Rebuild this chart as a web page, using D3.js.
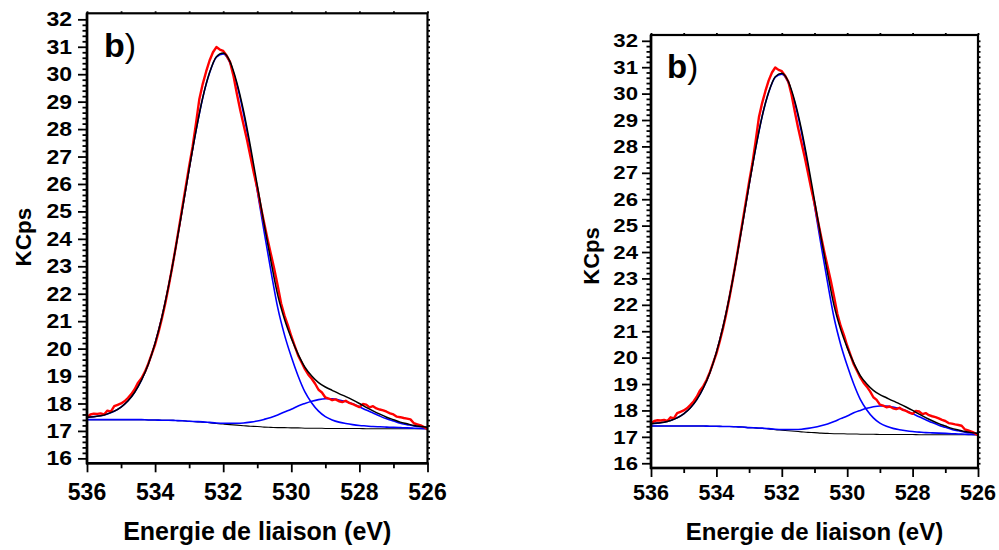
<!DOCTYPE html>
<html><head><meta charset="utf-8">
<script src="https://cdn.jsdelivr.net/npm/d3@7"></script>
<style>body{margin:0;background:#fff}svg{display:block}text{font-family:"Liberation Sans",Arial,sans-serif}</style>
</head><body>
<svg id="chart" width="999" height="550"></svg>
<script>
// ---------- DATA ----------
const energyFit = [536.0,535.8,535.6,535.4,535.2,535.0,534.8,534.6,534.4,534.2,534.0,533.8,533.6,533.4,533.2,533.0,532.8,532.6,532.4,532.2,532.0,531.8,531.6,531.4,531.2,531.0,530.8,530.6,530.4,530.2,530.0,529.8,529.6,529.4,529.2,529.0,528.8,528.6,528.4,528.2,528.0,527.8,527.6,527.4,527.2,527.0,526.8,526.6,526.4,526.2,526.0];
const background = [17.41,17.41,17.41,17.41,17.41,17.41,17.41,17.41,17.41,17.40,17.40,17.39,17.39,17.38,17.37,17.35,17.34,17.32,17.30,17.27,17.25,17.23,17.21,17.19,17.17,17.16,17.14,17.13,17.12,17.12,17.11,17.11,17.10,17.10,17.10,17.09,17.09,17.09,17.09,17.09,17.09,17.08,17.08,17.08,17.08,17.08,17.08,17.08,17.08,17.08,17.08];
const peakMain = [17.50,17.52,17.55,17.62,17.72,17.87,18.09,18.41,18.85,19.43,20.20,21.15,22.31,23.64,25.08,26.54,27.93,29.14,30.05,30.62,30.74,30.41,29.63,28.55,27.22,25.76,24.27,22.84,21.50,20.50,19.70,19.00,18.42,18.02,17.72,17.52,17.40,17.32,17.27,17.23,17.20,17.18,17.16,17.15,17.14,17.13,17.12,17.11,17.10,17.09,17.08];
const peakSecond = [17.41,17.41,17.41,17.41,17.41,17.41,17.41,17.41,17.41,17.40,17.40,17.39,17.39,17.38,17.37,17.35,17.34,17.33,17.31,17.29,17.28,17.28,17.28,17.29,17.32,17.36,17.42,17.49,17.58,17.69,17.79,17.91,18.00,18.08,18.14,18.17,18.17,18.13,18.07,17.99,17.88,17.76,17.65,17.54,17.44,17.36,17.28,17.23,17.18,17.15,17.13];
const envelope = [17.50,17.52,17.55,17.62,17.72,17.87,18.09,18.41,18.85,19.43,20.20,21.15,22.31,23.64,25.08,26.54,27.93,29.15,30.06,30.64,30.77,30.46,29.70,28.65,27.37,25.96,24.55,23.20,21.96,21.07,20.38,19.80,19.32,19.00,18.76,18.60,18.48,18.36,18.25,18.13,18.00,17.86,17.73,17.61,17.50,17.41,17.32,17.26,17.20,17.16,17.13];
const energyMeas = [536.0,535.9,535.8,535.7,535.6,535.5,535.4,535.3,535.2,535.1,535.0,534.9,534.8,534.7,534.6,534.5,534.4,534.3,534.2,534.1,534.0,533.9,533.8,533.7,533.6,533.5,533.4,533.3,533.2,533.1,533.0,532.9,532.8,532.7,532.6,532.5,532.4,532.3,532.2,532.1,532.0,531.9,531.8,531.7,531.6,531.5,531.4,531.3,531.2,531.1,531.0,530.9,530.8,530.7,530.6,530.5,530.4,530.3,530.2,530.1,530.0,529.9,529.8,529.7,529.6,529.5,529.4,529.3,529.2,529.1,529.0,528.9,528.8,528.7,528.6,528.5,528.4,528.3,528.2,528.1,528.0,527.9,527.8,527.7,527.6,527.5,527.4,527.3,527.2,527.1,527.0,526.9,526.8,526.7,526.6,526.5,526.4,526.3,526.2,526.1,526.0];
const measured = [17.50,17.60,17.63,17.62,17.64,17.60,17.74,17.70,17.90,17.95,18.00,18.08,18.20,18.34,18.52,18.76,18.92,19.15,19.45,19.80,20.15,20.60,21.10,21.65,22.28,22.95,23.66,24.40,25.15,25.90,26.65,27.35,28.20,29.10,29.65,30.10,30.50,30.80,30.99,30.90,30.85,30.68,30.45,29.95,29.30,28.70,28.15,27.60,27.00,26.40,25.85,25.20,24.60,24.00,23.45,22.90,22.30,21.65,21.20,20.85,20.45,20.10,19.75,19.50,19.25,19.05,18.90,18.72,18.50,18.40,18.22,18.18,18.12,18.15,18.08,18.05,18.10,18.02,17.98,17.92,17.87,17.98,17.96,17.86,17.90,17.82,17.78,17.75,17.70,17.64,17.60,17.52,17.50,17.47,17.45,17.42,17.28,17.24,17.20,17.14,17.06];
const xTickLabels = [536,534,532,530,528,526];
const xMinorTicks = [535,533,531,529,527];
const yTickLabels = [16,17,18,19,20,21,22,23,24,25,26,27,28,29,30,31,32];
const panelLabel = "b";
const xTitle = "Energie de liaison (eV)";
const yTitle = "KCps";

// ---------- LAYOUT ----------
const panels = [
  {id:"L", x0:87, x1:427.5, y0:13.3, y1:463.3, yl:19.5, ylScale:1.18, ylRight:72, xl:23, xt:25, ytx:22.5, yty:237, yt:22.5, bx:104, by:57, bfs:34},
  {id:"R", x0:651, x1:978, y0:35, y1:468, yl:18.5, ylScale:1.2, ylRight:638, xl:21.5, xt:24, ytx:591, yty:256, yt:22, bx:667, by:78, bfs:33}
];

const svg = d3.select("#chart");

panels.forEach(p => {
  const x = d3.scaleLinear().domain([536,526]).range([p.x0,p.x1]);
  const y = d3.scaleLinear().domain([15.82,32.22]).range([p.y1,p.y0]);
  const g = svg.append("g");

  g.append("clipPath").attr("id","clip"+p.id).append("rect")
    .attr("x",p.x0).attr("y",p.y0).attr("width",p.x1-p.x0).attr("height",p.y1-p.y0);
  const plot = g.append("g").attr("clip-path",`url(#clip${p.id})`);

  const lineFit = arr => d3.line().x((d,i)=>x(energyFit[i])).y(d=>y(d)).curve(d3.curveMonotoneX)(arr);
  const lineMeas = d3.line().x((d,i)=>x(energyMeas[i])).y(d=>y(d));

  plot.append("path").attr("d",lineFit(background)).attr("fill","none").attr("stroke","#000").attr("stroke-width",1.1);
  plot.append("path").attr("d",lineFit(peakSecond)).attr("fill","none").attr("stroke","#0000ff").attr("stroke-width",1.6);
  plot.append("path").attr("d",lineFit(peakMain)).attr("fill","none").attr("stroke","#0000ff").attr("stroke-width",1.6);
  plot.append("path").attr("d",lineMeas(measured)).attr("fill","none").attr("stroke","#ff0000").attr("stroke-width",2.4).attr("stroke-linejoin","round");
  plot.append("path").attr("d",lineFit(envelope)).attr("fill","none").attr("stroke","#000").attr("stroke-width",1.5);

  // axes ticks
  const styleAxis = sel => { sel.select(".domain").remove(); sel.selectAll("line").attr("stroke","#000").attr("stroke-width",2); sel.selectAll("text").remove(); };
  g.append("g").attr("transform",`translate(0,${p.y1})`).call(d3.axisBottom(x).tickValues(xTickLabels).tickSize(9)).call(styleAxis);
  g.append("g").attr("transform",`translate(0,${p.y1})`).call(d3.axisBottom(x).tickValues(xMinorTicks).tickSize(5)).call(styleAxis);
  g.append("g").attr("transform",`translate(0,${p.y0})`).call(d3.axisTop(x).tickValues(xTickLabels.concat(xMinorTicks)).tickSize(2)).call(styleAxis);
  const yMinor = d3.range(16,32.01,0.2).filter(v=>Math.abs(v-Math.round(v))>0.01);
  g.append("g").attr("transform",`translate(${p.x0},0)`).call(d3.axisLeft(y).tickValues(yTickLabels).tickSize(9)).call(styleAxis);
  g.append("g").attr("transform",`translate(${p.x0},0)`).call(d3.axisLeft(y).tickValues(yMinor).tickSize(4.5)).call(styleAxis);
  g.append("g").attr("transform",`translate(${p.x1},0)`).call(d3.axisRight(y).tickValues(yTickLabels.concat(yMinor)).tickSize(2.5)).call(styleAxis);
  g.selectAll("g.tick line").attr("stroke-width",1.8);

  // frame
  g.append("rect").attr("x",p.x0).attr("y",p.y0).attr("width",p.x1-p.x0).attr("height",p.y1-p.y0)
    .attr("fill","none").attr("stroke","#000").attr("stroke-width",2.2);
  g.append("line").attr("x1",p.x0).attr("x2",p.x0).attr("y1",p.y0).attr("y2",p.y1+1).attr("stroke","#000").attr("stroke-width",2.6);
  g.append("line").attr("x1",p.x0-1).attr("x2",p.x1+1).attr("y1",p.y1).attr("y2",p.y1).attr("stroke","#000").attr("stroke-width",2.6);

  // tick labels
  g.selectAll(".xl").data(xTickLabels).join("text")
    .attr("x",d=>x(d)).attr("y",500).attr("text-anchor","middle")
    .attr("font-size",p.xl).attr("font-weight","bold").text(d=>d);
  g.selectAll(".yl").data(yTickLabels).join("text")
    .attr("transform",d=>`translate(${p.ylRight},${y(d)+p.yl*0.36}) scale(${p.ylScale},1)`)
    .attr("text-anchor","end").attr("font-size",p.yl).attr("font-weight","bold").text(d=>d);

  // titles
  g.append("text").attr("x",(p.x0+p.x1)/2).attr("y",540).attr("text-anchor","middle")
    .attr("font-size",p.xt).attr("font-weight","bold").text(xTitle);
  g.append("text").attr("transform",`translate(${p.ytx+p.yt*0.36},${p.yty}) rotate(-90)`).attr("text-anchor","middle")
    .attr("font-size",p.yt).attr("font-weight","bold").text(yTitle);
  const b = g.append("text").attr("x",p.bx).attr("y",p.by).attr("font-size",p.bfs);
  b.append("tspan").attr("font-weight","bold").text(panelLabel);
  b.append("tspan").attr("font-weight","normal").text(")");
});
</script>
</body></html>
